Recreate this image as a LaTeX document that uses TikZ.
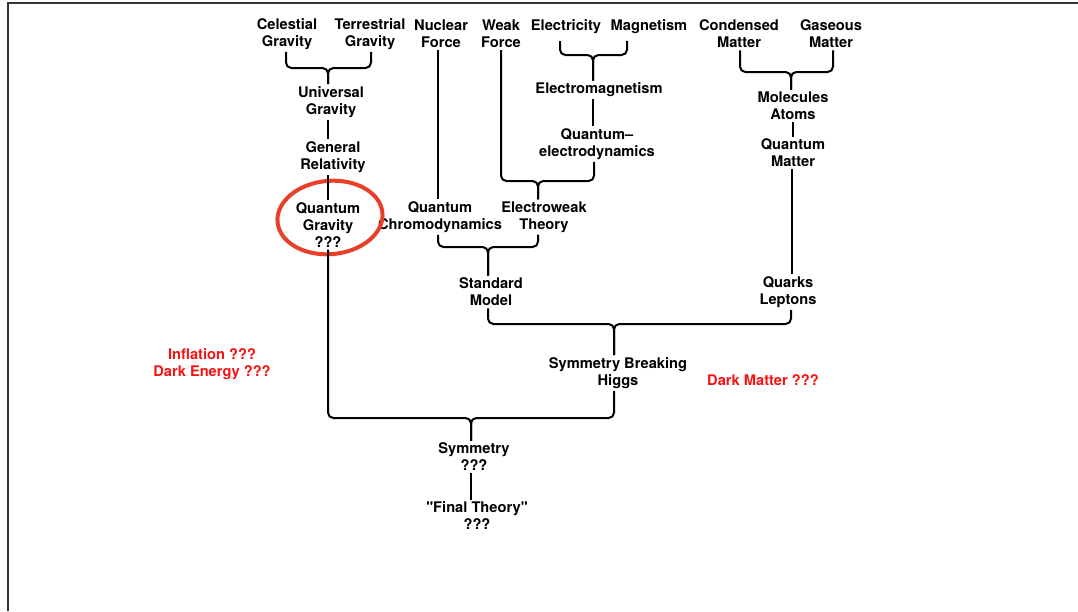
\documentclass[tikz,border=0pt]{standalone}
\usepackage{fontspec}
\setmainfont{TeX Gyre Heros}[Ligatures=TeXOff]
\definecolor{ringred}{RGB}{232,64,40}
\definecolor{txtred}{RGB}{245,20,20}
\begin{document}
\begin{tikzpicture}[x=0.75pt,y=-0.75pt,
  lbl/.style={font=\bfseries\fontsize{11}{12.75}\selectfont,align=center,inner sep=1.5pt},
  redlbl/.style={lbl,text=txtred},
  ln/.style={line width=1.5pt,black},
  br/.style={ln,rounded corners=4pt},
  ring/.style={line width=3pt,ringred}]
\useasboundingbox (0,0) rectangle (1078,611);
% frame
\draw[line width=1.5pt,black!80] (8,611) -- (8,3) -- (1078,3);
% nodes
\node[lbl] (cg) at (287,34) {Celestial\\Gravity};
\node[lbl] (tg) at (370,34) {Terrestrial\\Gravity};
\node[lbl] (nf) at (441,34) {Nuclear\\Force};
\node[lbl] (wf) at (501,34) {Weak\\Force};
\node[lbl,inner ysep=5pt] (el) at (566,27) {Electricity};
\node[lbl,inner ysep=5pt] (mg) at (649,27) {Magnetism};
\node[lbl] (cm) at (739,34) {Condensed\\Matter};
\node[lbl] (gm) at (831,34) {Gaseous\\Matter};
\node[lbl] (ug) at (331,102) {Universal\\Gravity};
\node[lbl] (gr) at (333,157) {General\\Relativity};
\node[lbl] (qg) at (328,225) {Quantum\\Gravity\\???};
\node[lbl] (em) at (599,90) {Electromagnetism};
\node[lbl] (qed) at (597,144) {Quantum–\\electrodynamics};
\node[lbl] (ma) at (793,106) {Molecules\\Atoms};
\node[lbl] (qm) at (793,153) {Quantum\\Matter};
\node[lbl] (qcd) at (440,217) {Quantum\\Chromodynamics};
\node[lbl] (ew) at (544,217) {Electroweak\\Theory};
\node[lbl] (sm) at (491,292) {Standard\\Model};
\node[lbl] (ql) at (788,292) {Quarks\\Leptons};
\node[lbl] (sb) at (618,373) {Symmetry Breaking\\Higgs};
\node[lbl] (sy) at (474,457) {Symmetry\\???};
\node[lbl] (ft) at (477,516) {"Final Theory"\\???};
\node[redlbl] (infl) at (212,364) {Inflation ???\\Dark Energy ???};
\node[redlbl] (dm) at (763,380) {Dark Matter ???};
% ring
\draw[ring] (330,217.5) ellipse [x radius=39.5pt, y radius=27.5pt, rotate=5];
% junctions
\coordinate (j1) at (328,68);
\coordinate (j2) at (593,55);
\coordinate (j3) at (791,72);
\coordinate (j4) at (538,181);
\coordinate (j5) at (488,247);
\coordinate (j6) at (614,324);
\coordinate (j7) at (471,418);
% brackets
\draw[br] (286,0 |- cg.south) -- (286,0 |- j1) -- (j1) -- (j1 |- ug.north);
\draw[br] (371,0 |- tg.south) -- (371,0 |- j1) -- (j1) -- (j1 |- ug.north);
\draw[br] (560,0 |- el.south) -- (560,0 |- j2) -- (j2) -- (j2 |- em.north);
\draw[br] (627,0 |- mg.south) -- (627,0 |- j2) -- (j2) -- (j2 |- em.north);
\draw[br] (740,0 |- cm.south) -- (740,0 |- j3) -- (j3) -- (j3 |- ma.north);
\draw[br] (833,0 |- gm.south) -- (833,0 |- j3) -- (j3) -- (j3 |- ma.north);
\draw[br] (501,0 |- wf.south) -- (501,0 |- j4) -- (j4) -- (j4 |- ew.north);
\draw[br] (594,0 |- qed.south) -- (594,0 |- j4) -- (j4) -- (j4 |- ew.north);
\draw[br] (438,0 |- qcd.south) -- (438,0 |- j5) -- (j5) -- (j5 |- sm.north);
\draw[br] (538,0 |- ew.south) -- (538,0 |- j5) -- (j5) -- (j5 |- sm.north);
\draw[br] (488,0 |- sm.south) -- (488,0 |- j6) -- (j6) -- (j6 |- sb.north);
\draw[br] (791,0 |- ql.south) -- (791,0 |- j6) -- (j6) -- (j6 |- sb.north);
\draw[br] (328,0 |- qg.south) -- (328,0 |- j7) -- (j7) -- (j7 |- sy.north);
\draw[br] (614,0 |- sb.south) -- (614,0 |- j7) -- (j7) -- (j7 |- sy.north);
% simple links
\draw[ln] (438,0 |- nf.south) -- (438,0 |- qcd.north);
\draw[ln] (328,0 |- ug.south) -- (328,0 |- gr.north);
\draw[ln] (328,0 |- gr.south) -- (328,0 |- qg.north);
\draw[ln] (j2 |- em.south) -- (j2 |- qed.north);
\draw[ln] (793,0 |- ma.south) -- (793,0 |- qm.north);
\draw[ln] (792,0 |- qm.south) -- (792,0 |- ql.north);
\draw[ln] (j7 |- sy.south) -- (j7 |- ft.north);
\end{tikzpicture}
\end{document}
